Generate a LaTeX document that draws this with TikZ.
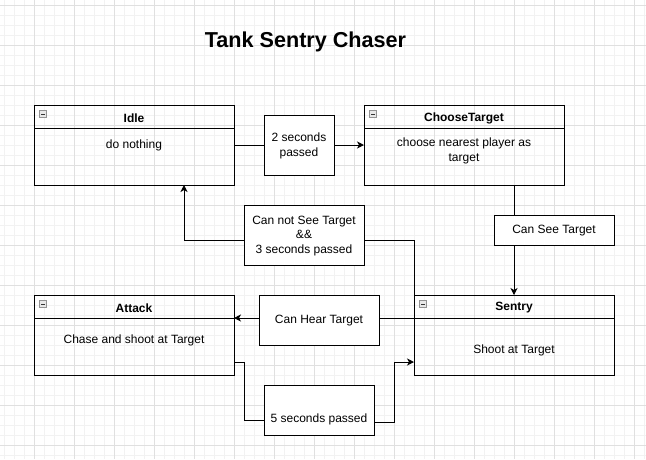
\documentclass[tikz,border=0pt]{standalone}
\usepackage{fontspec}
\setmainfont{Liberation Sans}
\usetikzlibrary{arrows.meta}
\begin{document}
\begin{tikzpicture}[x=1pt,y=-1pt,
  state/.style={draw, line width=1pt, minimum width=200pt, minimum height=80pt, anchor=north west, inner sep=0pt, outer sep=0pt},
  lbl/.style={draw, fill=white, line width=1pt, inner sep=0pt, outer sep=0pt, align=center, font=\fontsize{12}{14.5}\selectfont},
  txt/.style={inner sep=0pt, align=center, font=\fontsize{12}{14.5}\selectfont},
  head/.style={inner sep=0pt, font=\bfseries\fontsize{12}{14.5}\selectfont},
  edge/.style={line width=1pt, -{Stealth[length=7pt,width=7pt,inset=2pt]}},
  plain/.style={line width=1pt},
  icon/.style={draw=gray!85, fill=gray!18, line width=0.8pt, minimum size=7pt, inner sep=0pt, outer sep=0pt, anchor=north west},
  minusline/.style={line width=1pt, draw=black!80},
  minorgrid/.style={draw=black!5, line width=1pt},
  majorgrid/.style={draw=black!12, line width=1pt}
]
\useasboundingbox (0,0) rectangle (646,459);
\fill[white] (0,0) rectangle (646,459);
% grid
\foreach \x in {4,14,...,644} \draw[minorgrid] (\x,0) -- (\x,459);
\foreach \y in {5,15,...,455} \draw[minorgrid] (0,\y) -- (646,\y);
\foreach \x in {34,74,...,634} \draw[majorgrid] (\x,0) -- (\x,459);
\foreach \y in {5,45,...,445} \draw[majorgrid] (0,\y) -- (646,\y);

% title
\node[font=\bfseries\fontsize{21.6}{26}\selectfont, anchor=base, inner sep=0pt] (title) at (305.5,47.7) {Tank Sentry Chaser};

% states
\node[state] (idle) at (34,105) {};
\node[state] (choose) at (364,105) {};
\node[state] (attack) at (34,295) {};
\node[state] (sentry) at (414,295) {};

\foreach \n/\t in {idle/Idle, choose/ChooseTarget, attack/Attack, sentry/Sentry} {
  \draw[plain] ([yshift=-23pt]\n.north west) -- ([yshift=-23pt]\n.north east);
  \node[head] (\n-h) at ([yshift=-13pt]\n.north) {\t};
  \node[icon] (\n-i) at ([xshift=5.5pt,yshift=-5.5pt]\n.north west) {};
  \draw[minusline] ([xshift=1.5pt]\n-i.west) -- ([xshift=-1.5pt]\n-i.east);
}

\node[txt] (idle-b) at ([yshift=-40.5pt]idle.north) {do nothing};
\node[txt] (choose-b) at ([yshift=-46pt]choose.north) {choose nearest player as\\target};
\node[txt] (attack-b) at ([yshift=-45.3pt]attack.north) {Chase and shoot at Target};
\node[txt] (sentry-b) at ([yshift=-55pt]sentry.north) {Shoot at Target};

% labels that edges end on
\node[lbl, minimum width=70pt, minimum height=60pt] (two) at (299,145) {};
\node[txt] (two-t) at (299,146) {2 seconds\\passed};
\node[lbl, minimum width=110pt, minimum height=50pt] (five) at (319,410) {};
\node[txt] (five-t) at (319,419) {5 seconds passed};

% edges
\draw[plain] (idle.east) -- (two.west);
\draw[edge] (two.east) -- (choose.west);
\draw[edge] (choose.south -| sentry.north) -- (sentry.north);
\draw[edge] (sentry.north west) |- ([xshift=50pt,yshift=-55pt]idle.south) -- ([xshift=50pt]idle.south);
\draw[edge] ([yshift=-23pt]sentry.north west) -- ([yshift=-23pt]attack.north east);
\draw[plain] ([yshift=-67pt]attack.north east) -- ++(10,0) |- ([yshift=15pt]five.south west);
\draw[edge] ([yshift=12.5pt]five.south east) -- ++(20,0) |- ([yshift=-67pt]sentry.north west);

% labels over edges
\node[lbl, minimum width=120pt, minimum height=30pt] (cansee) at (554,230) {};
\node[txt] (cansee-t) at (554,231) {Can See Target};
\node[lbl, minimum width=120pt, minimum height=60pt] (cannot) at (304,235) {};
\node[txt] (cannot-t) at (304,236) {Can not See Target\\\&\&\\3 seconds passed};
\node[lbl, minimum width=120pt, minimum height=50pt] (canhear) at (319,320) {};
\node[txt] (canhear-t) at (319,321) {Can Hear Target};
\end{tikzpicture}
\end{document}
